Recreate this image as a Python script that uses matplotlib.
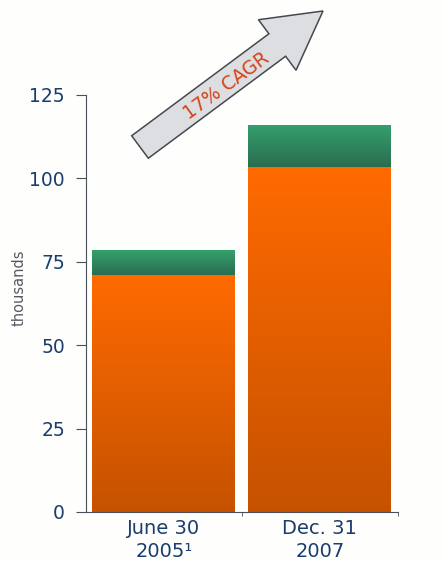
import matplotlib.pyplot as plt
import numpy as np
from matplotlib.colors import LinearSegmentedColormap
from matplotlib.patches import FancyArrow

# data (thousands)
categories = ['June 30\n2005\u00b9', 'Dec. 31\n2007']
base_values = [71.0, 103.5]
top_values = [7.4, 12.6]
yticks = [0, 25, 50, 75, 100, 125]
cagr_label = '17% CAGR'

label_color = '#1b3c6e'
axis_color = '#4a5058'

orange_cmap = LinearSegmentedColormap.from_list('org', ['#c65200', '#ff6a00'])
green_cmap = LinearSegmentedColormap.from_list('grn', ['#2a6e50', '#34a06c'])

fig = plt.figure(figsize=(4.43, 5.63), dpi=100, facecolor='#fefefc')
ax = fig.add_axes([0.194, 0.0906, 0.704, 0.7407])
ax.set_facecolor('#fefefc')

x = np.arange(len(categories))
width = 0.917
grad = np.linspace(0, 1, 256).reshape(-1, 1)


def gradient_bar(xc, bottom, height, cmap):
    bar = ax.bar(xc, height, width, bottom=bottom, color='none', edgecolor='none')[0]
    im = ax.imshow(grad, cmap=cmap, aspect='auto', origin='lower',
                   extent=[xc - width / 2, xc + width / 2, bottom, bottom + height],
                   zorder=2)
    im.set_clip_path(bar)


for xi, b, t in zip(x, base_values, top_values):
    gradient_bar(xi, 0, b, orange_cmap)
    gradient_bar(xi, b, t, green_cmap)

ax.set_xlim(-0.5, 1.5)
ax.set_ylim(0, 125)
ax.set_yticks(yticks)
ax.set_xticks(x)
ax.set_xticklabels(categories, color=label_color, fontsize=14, linespacing=1.25)
ax.set_xticks([0.5, 1.5], minor=True)
ax.tick_params(axis='x', which='major', length=0, pad=5)
ax.tick_params(axis='x', which='minor', length=3, color=axis_color)
ax.tick_params(axis='y', length=7, color=axis_color, labelcolor=label_color,
               labelsize=13.5, pad=8)
for s in ['top', 'right']:
    ax.spines[s].set_visible(False)
for s in ['left', 'bottom']:
    ax.spines[s].set_color(axis_color)
ax.set_ylabel('thousands', color='#555a62', fontsize=10.5)
ax.yaxis.set_label_coords(-0.19, 0.537)

# CAGR arrow in pixel space
ov = fig.add_axes([0, 0, 1, 1], facecolor='none')
ov.set_xlim(0, 443)
ov.set_ylim(563, 0)
ov.axis('off')
tail = (140, 147)
tip = (323, 11)
arr = FancyArrow(tail[0], tail[1], tip[0] - tail[0], tip[1] - tail[1],
                 width=28, head_width=63, head_length=57,
                 length_includes_head=True, facecolor='#dcdee2',
                 edgecolor='#45494e', linewidth=1.1)
ov.add_patch(arr)
ov.text(226, 86, cagr_label, color='#d6441a', fontsize=13.5, rotation=36,
        ha='center', va='center', rotation_mode='anchor')

fig.savefig('out.png', dpi=100, facecolor=fig.get_facecolor())
